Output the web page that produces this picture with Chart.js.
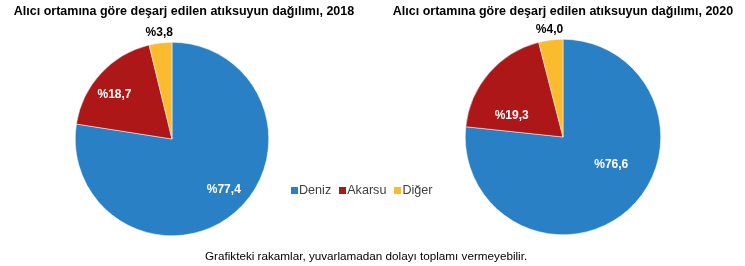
<!DOCTYPE html>
<html>
<head>
<meta charset="utf-8">
<script src="https://cdn.jsdelivr.net/npm/chart.js@4.4.1/dist/chart.umd.min.js"></script>
<style>
  body { margin: 0; background: #fff; }
  #wrap { position: relative; width: 745px; height: 266px; overflow: hidden; font-family: "Liberation Sans", Arial, sans-serif; }
  .box { position: absolute; top: 0; height: 266px; }
  .title { position: absolute; top: 4px; font-weight: bold; font-size: 12.5px; color: #000; white-space: nowrap; transform: translateX(-50%); }
  #legend { position: absolute; left: 291px; top: 183px; font-size: 12.6px; color: #404040; white-space: nowrap; }
  #legend span.sq { display: inline-block; width: 7px; height: 7px; margin-right: 1px; vertical-align: 0px; }
  #legend span.item { margin-right: 8px; }
  #note { position: absolute; left: 205px; top: 249px; font-size: 11.7px; color: #000; white-space: nowrap; }
</style>
</head>
<body>
<div id="wrap">
  <div class="box" style="left:0;width:372px"><canvas id="c2018"></canvas></div>
  <div class="box" style="left:372px;width:373px"><canvas id="c2020"></canvas></div>
  <div class="title" id="t2018" style="left:184px"></div>
  <div class="title" id="t2020" style="left:563px"></div>
  <div id="legend"></div>
  <div id="note">Grafikteki rakamlar, yuvarlamadan dolayı toplamı vermeyebilir.</div>
</div>
<script>
// data
const categories = ['Deniz', 'Akarsu', 'Diğer'];
const values2018 = [77.4, 18.7, 3.8];
const values2020 = [76.6, 19.3, 4.0];
const titleText = 'Alıcı ortamına göre deşarj edilen atıksuyun dağılımı, ';
const colors = ['#2a80c5', '#ad1717', '#fbbb2e'];

document.getElementById('t2018').textContent = titleText + '2018';
document.getElementById('t2020').textContent = titleText + '2020';

// html legend built from the categories
let lg = '';
categories.forEach(function(c, i){
    lg += '<span class="item"><span class="sq" style="background:' + colors[i] + '"></span>' + c + '</span>';
});
document.getElementById('legend').innerHTML = lg;

// draws the % labels on the slices, small slices get theirs outside
const sliceLabels = {
    id: 'sliceLabels',
    afterDatasetsDraw(chart, args, opts){
        const ctx = chart.ctx;
        const meta = chart.getDatasetMeta(0);
        const data = chart.data.datasets[0].data;
        const shift = (opts.shift || 0) * Math.PI / 180;
        ctx.save();
        ctx.font = 'bold 12px "Liberation Sans", Arial, sans-serif';
        ctx.textAlign = 'center';
        ctx.textBaseline = 'middle';
        meta.data.forEach(function(arc, i){
            const p = arc.getProps(['x', 'y', 'startAngle', 'endAngle', 'outerRadius']);
            let mid = (p.startAngle + p.endAngle) / 2;
            let dist, col;
            if (data[i] < 10) {
                dist = p.outerRadius + 10;
                col = '#000';
            } else {
                dist = p.outerRadius * opts.dist;
                mid += shift;
                col = '#fff';
            }
            const txt = '%' + data[i].toFixed(1).replace('.', ',');
            ctx.fillStyle = col;
            ctx.fillText(txt, p.x + Math.cos(mid) * dist, p.y + Math.sin(mid) * dist);
        });
        ctx.restore();
    }
};

function makePie(id, values, pad, lbl){
    const ctx = document.getElementById(id).getContext('2d');
    return new Chart(ctx, {
        type: 'pie',
        data: {
            labels: categories,
            datasets: [{
                data: values,
                backgroundColor: colors,
                borderColor: '#ffffff',
                borderWidth: 0.5,
                hoverOffset: 0
            }]
        },
        options: {
            responsive: true,
            maintainAspectRatio: false,
            animation: false,
            layout: { padding: pad },
            plugins: {
                legend: { display: false },
                title: { display: false },
                tooltip: { enabled: false },
                sliceLabels: lbl
            }
        },
        plugins: [sliceLabels]
    });
}

makePie('c2018', values2018, { top: 42, bottom: 30, left: 0, right: 28 }, { dist: 0.75, shift: -5 });
makePie('c2020', values2020, { top: 39, bottom: 31, left: 9, right: 0 }, { dist: 0.57, shift: -18 });
</script>
</body>
</html>
